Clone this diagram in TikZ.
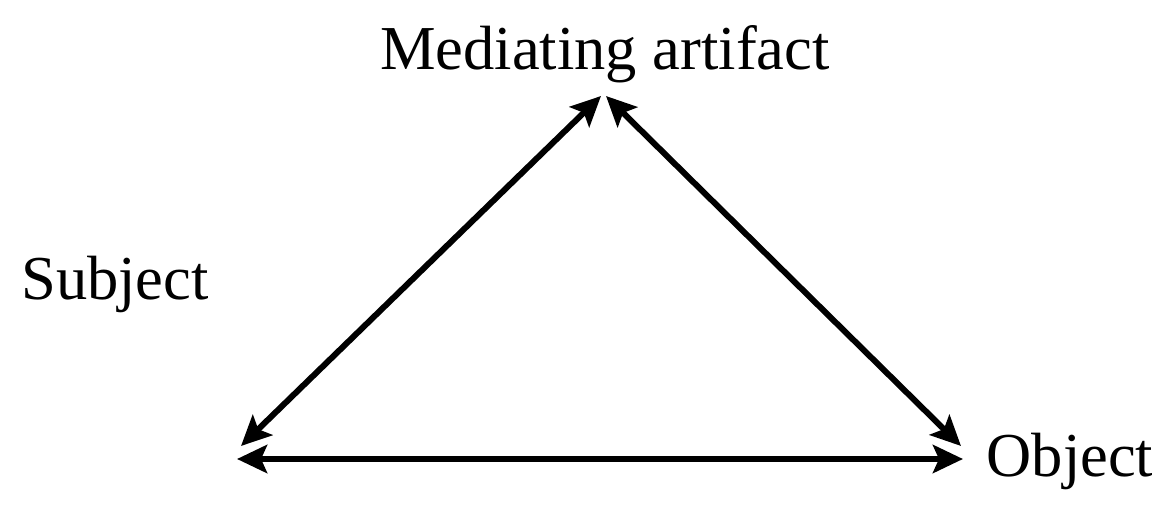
\documentclass[tikz,border=0pt]{standalone}
\usepackage{fontspec}
\setmainfont{Liberation Serif}
\usetikzlibrary{arrows.meta}
\begin{document}
\begin{tikzpicture}[x=1pt,y=-1pt,
  lbl/.style={font=\fontsize{62.5}{70}\selectfont, inner sep=0pt, anchor=base},
  tip/.style={Stealth[length=30pt,width=28pt,inset=6pt]},
  dbl/.style={line width=6pt, {Stealth[length=30pt,width=28pt,inset=6pt]}-{Stealth[length=30pt,width=28pt,inset=6pt]}}]
\useasboundingbox (0,0) rectangle (1176,508);
\node[lbl] (med) at (605,70) {Mediating artifact};
\node[lbl] (subj) at (115,299) {Subject};
\node[lbl] (obj) at (1070,476) {Object};
\coordinate (tl) at (601,96);
\coordinate (tr) at (606,96);
\coordinate (bld) at (241,446);
\coordinate (brd) at (961,446);
\coordinate (blh) at (237,459);
\coordinate (brh) at (963,459);
\draw[dbl] (bld) -- (tl);
\draw[dbl] (tr) -- (brd);
\draw[dbl] (blh) -- (brh);
\end{tikzpicture}
\end{document}
